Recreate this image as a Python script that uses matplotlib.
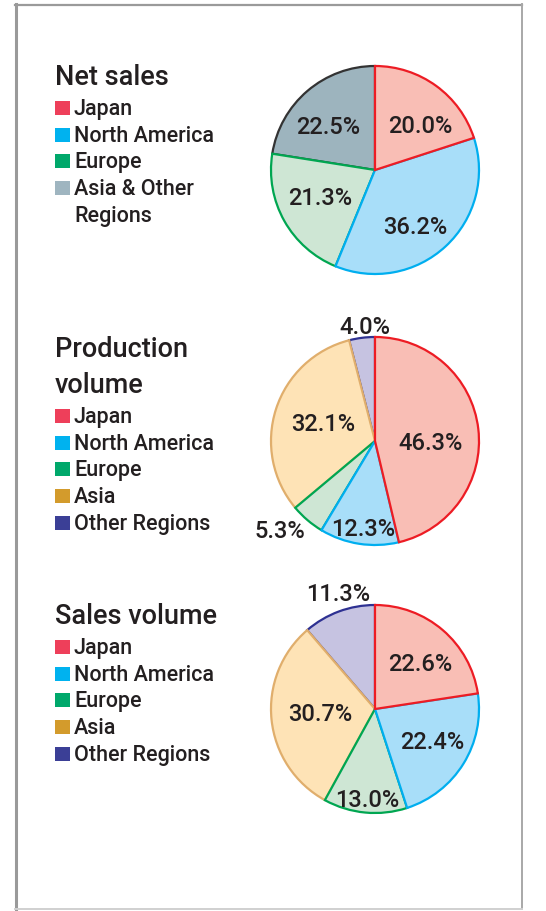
import numpy as np
import matplotlib
matplotlib.use("Agg")
import matplotlib.pyplot as plt
from matplotlib.patches import Rectangle
from matplotlib.lines import Line2D

plt.rcParams['font.family'] = ['Roboto', 'DejaVu Sans']
plt.rcParams['font.weight'] = 'medium'

# ---------------- data ----------------
net_titles = ["Net sales"]
net_categories = ["Japan", "North America", "Europe", "Asia & Other\nRegions"]
net_values = [20.0, 36.2, 21.3, 22.5]

prod_titles = ["Production", "volume"]
prod_categories = ["Japan", "North America", "Europe", "Asia", "Other Regions"]
prod_values = [46.3, 12.3, 5.3, 32.1, 4.0]

sales_titles = ["Sales volume"]
sales_categories = ["Japan", "North America", "Europe", "Asia", "Other Regions"]
sales_values = [22.6, 22.4, 13.0, 30.7, 11.3]

# ---------------- styles ----------------
TXT = "#231F20"
fill = {"Japan": "#F9BEB5", "North America": "#A8DEF9", "Europe": "#CEE6D4",
        "Asia": "#FEE3B6", "Other Regions": "#C6C3E1", "Asia & Other\nRegions": "#9DB4BE"}
edge = {"Japan": "#ED1C24", "North America": "#00AEEF", "Europe": "#00A651",
        "Asia": "#E0AE6C", "Other Regions": "#2E3192", "Asia & Other\nRegions": "#333333"}
swatch = {"Japan": "#EE3F5A", "North America": "#00B2EF", "Europe": "#00A86B",
          "Asia": "#D39B2C", "Other Regions": "#3B3F96", "Asia & Other\nRegions": "#9FB5C0"}

W, H = 546, 911
fig = plt.figure(figsize=(W / 100, H / 100), dpi=100)
fig.patch.set_facecolor("white")

def fx(x):
    return x / W

def fy(y):
    return 1 - y / H

# frame
fig.add_artist(Line2D([fx(15.5), fx(15.5)], [fy(4), fy(909)], color="#9a9a9a", lw=2.2))
fig.add_artist(Line2D([fx(15), fx(522)], [fy(4.5), fy(4.5)], color="#9a9a9a", lw=1.6))
fig.add_artist(Line2D([fx(521.5), fx(521.5)], [fy(4), fy(909)], color="#a8a8a8", lw=1.4))
fig.add_artist(Line2D([fx(15), fx(522)], [fy(908.5), fy(908.5)], color="#d0d0d0", lw=1.4))

R = 104
L = 1.06

def draw_block(titles, title_base, categories, values, center, label_pos):
    # titles
    for i, t in enumerate(titles):
        fig.text(fx(55), fy(title_base + i * 36), t, fontsize=19.5, color=TXT,
                 ha="left", va="baseline")
    base = title_base + (len(titles) - 1) * 36 + 30
    row = 0
    for c in categories:
        b = base + row * 26.7
        fig.add_artist(Rectangle((fx(55), fy(b)), 15 / W, 14 / H,
                                 transform=fig.transFigure, facecolor=swatch[c],
                                 edgecolor="none"))
        lines = c.split("\n")
        for j, ln in enumerate(lines):
            fig.text(fx(74), fy(b + j * 26.7), ln, fontsize=15.5, color=TXT,
                     ha="left", va="baseline")
        row += len(lines)
    # pie
    cx, cy = center
    size = 2 * L * R
    ax = fig.add_axes([fx(cx - L * R), fy(cy + L * R), size / W, size / H])
    wedges, _ = ax.pie(values, startangle=90, counterclock=False,
                       colors=[fill[c] for c in categories],
                       wedgeprops=dict(linewidth=1.6, joinstyle="miter"))
    n = len(wedges)
    for i, (w, c) in enumerate(zip(wedges, categories)):
        w.set_edgecolor(edge[c])
        w.set_zorder(10 + n - i)
        w.set_clip_on(False)
    ax.set_xlim(-L, L)
    ax.set_ylim(-L, L)
    ax.set_aspect("equal")
    ax.axis("off")
    for v, (r, a) in zip(values, label_pos):
        t = np.deg2rad(a)
        ax.text(r * np.cos(t), r * np.sin(t) - 0.02, f"{v:.1f}%", fontsize=17,
                color=TXT, ha="center", va="center", zorder=30)

draw_block(net_titles, 85, net_categories, net_values, (375, 170),
           [(0.62, 45), (0.66, -54), (0.59, 206), (0.62, 136)])
draw_block(prod_titles, 357, prod_categories, prod_values, (375, 441),
           [(0.53, 0), (0.835, 262), (1.245, 222.8), (0.53, 160), (1.12, 95)])
draw_block(sales_titles, 624, sales_categories, sales_values, (375, 709),
           [(0.625, 46), (0.624, -28.5), (0.86, 265), (0.53, 184), (1.18, 107.5)])

fig.savefig("out.png", dpi=100, facecolor="white")
